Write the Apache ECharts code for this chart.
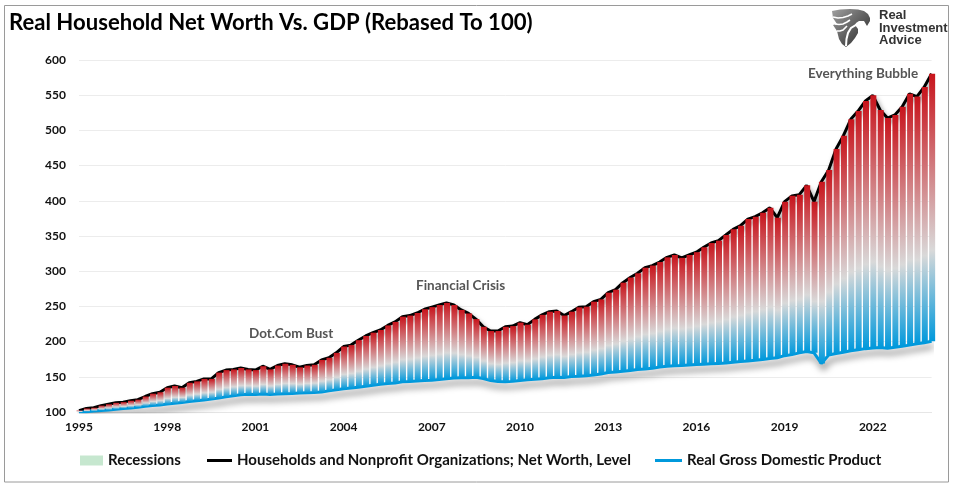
<!DOCTYPE html>
<html>
<head>
<meta charset="utf-8">
<script src="https://cdn.jsdelivr.net/npm/echarts@6/dist/echarts.min.js"></script>
<style>
html, body { margin: 0; padding: 0; background: #fff; }
#main { width: 959px; height: 483px; }
</style>
</head>
<body>
<div id="main"></div>
<script>
var FONT = 'Lato';

// one entry per quarter, starting 1995 Q1
var netWorth = [
    102, 105, 106, 109, 111, 113, 114, 116, 117.5, 122, 126, 128,
    134.5, 137, 134.5, 141.5, 143.5, 147, 147, 156, 159.5, 160.5, 162.5, 160.5,
    159.5, 165, 160.5, 166, 168.5, 167, 163.5, 166, 167, 174, 177, 184,
    193, 195, 202, 208, 212.7, 216.5, 223, 228, 235.4, 237, 240.6, 246,
    249, 252, 255, 252, 245, 240, 232, 221, 215, 215, 221, 222,
    227, 224, 231.6, 238, 242.5, 243.5, 237, 242.5, 248.7, 249.6, 256.7, 260,
    269.5, 273.8, 283.7, 291, 297, 305, 308, 313, 319.7, 323, 319, 323,
    327, 334, 340, 343.4, 351.4, 359.5, 364.7, 374, 377.5, 383, 390, 376,
    398.8, 407, 408.7, 422, 398.8, 427, 443.7, 473.6, 492.5, 515.7, 527.5, 541.8,
    549.8, 529, 517.6, 522, 533.7, 552, 548, 561.6, 580.6
];
var realGdp = [
    100, 100.4, 101.3, 102, 102.8, 103.9, 104.8, 105.6, 106.6, 108, 109.1, 110,
    111.3, 112.3, 113.5, 115, 116.1, 117, 118.3, 120, 121.5, 123, 124.5, 125.2,
    125, 125.6, 124.9, 125.4, 126, 126.4, 127, 127.3, 127.6, 128.3, 130, 131.5,
    133, 134, 135.3, 136.6, 138, 139.3, 140.4, 141.2, 142.9, 143.3, 143.9, 144.6,
    145.2, 146, 147.3, 148.3, 148.8, 148.7, 149.3, 147.5, 144.6, 143.2, 142.8, 143.5,
    144.8, 145.8, 146.4, 147.3, 148.6, 149.4, 149, 150.3, 150.8, 151.5, 152.5, 154,
    156, 156.8, 158, 159, 160.5, 161, 162, 164, 165, 165.6, 166, 166.8,
    167.5, 168, 168.5, 169, 169.5, 170.8, 171.6, 172.6, 173.6, 174.6, 176, 177,
    180, 181.5, 184, 186, 184, 169, 181, 183, 185, 187, 188.5, 190,
    191, 191.5, 190.5, 192, 193.5, 195, 196.8, 198.5, 200.5
];
var tickYears = [1995, 1998, 2001, 2004, 2007, 2010, 2013, 2016, 2019, 2022, 2025];

var quarters = [];
tickYears.forEach(function (year) {
    for (var q = 0; q < 12 && quarters.length < netWorth.length; q++) {
        quarters.push(String(year));
    }
});
var spread = netWorth.map(function (v, i) { return +(v - realGdp[i]).toFixed(1); });

var NW_NAME = 'Households and Nonprofit Organizations; Net Worth, Level';
var GDP_NAME = 'Real Gross Domestic Product';

var myChart = echarts.init(document.getElementById('main'));

var barColor = new echarts.graphic.LinearGradient(0, 0, 0, 1, [
    { offset: 0, color: '#c8141c' },
    { offset: 0.66, color: '#d9d9d9' },
    { offset: 1, color: '#0099dc' }
]);

function note(text, x, y) {
    return {
        type: 'text', left: x, top: y, z: 20,
        style: {
            text: text, fill: '#555', font: 'bold 13.5px ' + FONT,
            shadowColor: 'rgba(0,0,0,0.55)', shadowBlur: 2, shadowOffsetX: 1, shadowOffsetY: 1
        }
    };
}

function legendAt(name, x, width, height) {
    return {
        left: x, top: 453, padding: 0,
        icon: 'rect',
        itemWidth: width, itemHeight: height,
        textStyle: { fontFamily: FONT, fontWeight: 'bold', fontSize: 15, color: '#111' },
        data: [name]
    };
}

function logoCut(points, width) {
    return {
        type: 'polyline', z: 21, silent: true,
        shape: { points: points },
        style: { fill: 'none', stroke: '#fff', lineWidth: width }
    };
}

var logoGray = new echarts.graphic.LinearGradient(0, 0, 1, 1, [
    { offset: 0, color: '#a0a0a0' },
    { offset: 0.6, color: '#555' },
    { offset: 1, color: '#2a2a2a' }
]);

myChart.setOption({
    animation: false,
    backgroundColor: '#fff',
    grid: { left: 79, top: 60, width: 852.6, height: 352 },
    legend: [
        legendAt('Recessions', 80, 23, 10),
        legendAt(NW_NAME, 207, 25, 3),
        legendAt(GDP_NAME, 655, 27, 3)
    ],
    xAxis: {
        type: 'category',
        data: quarters,
        boundaryGap: false,
        axisLine: { lineStyle: { color: '#e6e6e6' } },
        axisTick: { show: false },
        axisLabel: { interval: 11, color: '#111', fontFamily: FONT, fontWeight: 'bold', fontSize: 12, margin: 9 }
    },
    yAxis: {
        type: 'value',
        min: 100, max: 600, interval: 50,
        axisLine: { show: false },
        axisTick: { show: false },
        splitLine: { lineStyle: { color: '#ececec' } },
        axisLabel: { color: '#111', fontFamily: FONT, fontWeight: 'bold', fontSize: 12, margin: 13 }
    },
    series: [
        {
            name: 'Recessions', type: 'bar', data: [],
            itemStyle: { color: '#c6e7cf' }
        },
        {
            name: NW_NAME,
            type: 'line', data: netWorth, symbol: 'none', z: 2,
            itemStyle: { color: '#000' },
            lineStyle: { color: '#000', width: 3, shadowColor: 'rgba(0,0,0,0.5)', shadowBlur: 5, shadowOffsetX: 2, shadowOffsetY: 4 }
        },
        {
            name: GDP_NAME,
            type: 'line', data: realGdp, symbol: 'none', z: 2,
            itemStyle: { color: '#0099dc' },
            lineStyle: { color: '#0099dc', width: 3, shadowColor: 'rgba(0,0,0,0.6)', shadowBlur: 7, shadowOffsetX: 2, shadowOffsetY: 5 }
        },
        {
            name: 'base', type: 'bar', stack: 'band', data: realGdp, z: 3,
            barWidth: 6, clip: false, silent: true,
            itemStyle: { color: 'rgba(0,0,0,0)' }
        },
        {
            name: 'spread', type: 'bar', stack: 'band', data: spread, z: 3,
            barWidth: 6, clip: false, silent: true,
            itemStyle: { color: barColor }
        }
    ],
    graphic: [
        { type: 'rect', z: 30, silent: true, shape: { x: 4.5, y: 5.5, width: 944, height: 476.5 }, style: { fill: 'none', stroke: '#9a9a9a', lineWidth: 1 } },
        { type: 'text', left: 9, top: 12, z: 20, style: { text: 'Real Household Net Worth Vs. GDP (Rebased To 100)', fill: '#000', font: 'bold 22.1px ' + FONT } },
        note('Dot.Com Bust', 249, 327),
        note('Financial Crisis', 416, 279),
        note('Everything Bubble', 808, 67),
        // logo: eagle head on a shield
        {
            type: 'polygon', z: 20, silent: true,
            shape: { points: [[832, 11], [840, 9.5], [850, 9], [858, 9.5], [864, 11], [868, 14], [870, 18], [870, 21], [867, 26], [864, 21], [859, 21], [856, 23], [855, 25], [858, 29], [858, 33], [855, 38], [851, 43], [846, 47], [842, 44], [839, 39], [837, 31], [833, 25], [837, 24], [833, 18]] },
            style: { fill: logoGray }
        },
        logoCut([[846, 46], [846.5, 39], [848, 33], [851, 28], [856, 25], [863, 23]], 2),
        logoCut([[833, 17], [838, 18], [843, 17.5], [848, 16], [852, 14]], 1.6),
        logoCut([[835, 24], [839, 24.5], [843, 24], [847, 22], [850, 20]], 1.6),
        logoCut([[837, 31], [840, 31], [843, 30], [847, 26]], 1.6),
        { type: 'text', left: 879, top: 9, z: 20, style: { text: 'Real\nInvestment\nAdvice', fill: '#333', font: 'bold 13px "Liberation Sans"', lineHeight: 12.7 } }
    ]
});
window.onresize = function () {
    myChart.resize();
};
</script>
</body>
</html>
